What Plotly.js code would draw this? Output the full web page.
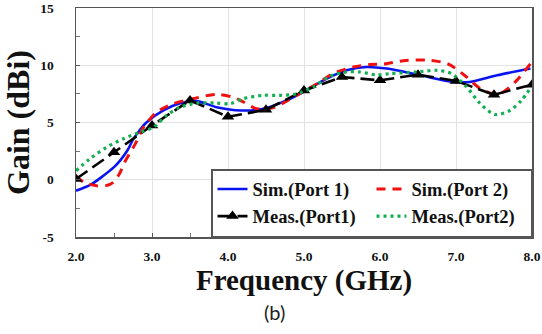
<!DOCTYPE html>
<html>
<head>
<meta charset="utf-8">
<script src="https://cdn.plot.ly/plotly-3.0.1.min.js"></script>
<style>
  html, body { margin: 0; padding: 0; background: #fff; }
  #chart { width: 542px; height: 334px; }
</style>
</head>
<body>
<div id="chart"></div>
<script>
// Simulated gain, port 1 (GHz, dBi)
const simP1Freq = [2.0, 2.2, 2.36, 2.5, 2.58, 2.68, 2.75, 2.84, 2.93, 3.15, 3.37, 3.59, 3.85, 4.17, 4.47, 4.77, 4.99, 5.30, 5.56, 5.82, 6.09, 6.53, 6.97, 7.18, 7.54, 7.98];
const simP1Gain = [-0.96, -0.4, 0.35, 1.1, 1.67, 2.6, 3.5, 4.35, 5.03, 6.05, 6.69, 6.87, 6.34, 6.05, 6.2, 6.93, 7.66, 8.83, 9.56, 9.85, 9.71, 9.12, 8.54, 8.54, 9.12, 9.71];

// Simulated gain, port 2
const simP2Freq = [2.0, 2.1, 2.27, 2.4, 2.49, 2.57, 2.64, 2.78, 2.89, 3.06, 3.28, 3.54, 3.85, 4.07, 4.2, 4.38, 4.6, 4.9, 5.21, 5.38, 5.65, 5.87, 6.05, 6.31, 6.64, 6.9, 7.14, 7.32, 7.5, 7.62, 7.8, 7.98];
const simP2Gain = [0.35, -0.2, -0.53, -0.5, -0.23, 0.5, 1.52, 3.13, 4.59, 5.9, 6.64, 7.08, 7.46, 7.2, 6.8, 6.2, 6.3, 7.37, 8.54, 9.27, 9.85, 10.06, 10.1, 10.4, 10.44, 10.1, 8.97, 7.95, 7.5, 7.66, 8.68, 10.15];

// Measured gain, port 1 (sampled every 0.5 GHz)
const measP1Freq = [2.0, 2.5, 3.0, 3.5, 4.0, 4.5, 5.0, 5.5, 6.0, 6.5, 7.0, 7.5, 8.0];
const measP1Gain = [0.06, 2.4, 4.74, 6.93, 5.5, 6.11, 7.8, 8.97, 8.68, 9.18, 8.63, 7.43, 8.3];

// Measured gain, port 2
const measP2Freq = [2.0, 2.18, 2.4, 2.62, 2.84, 3.02, 3.19, 3.37, 3.59, 3.85, 4.03, 4.2, 4.46, 4.68, 4.9, 5.12, 5.34, 5.56, 5.74, 5.96, 6.13, 6.48, 6.75, 6.94, 7.14, 7.32, 7.51, 7.71, 7.86, 7.99];
const measP2Gain = [0.79, 1.81, 2.83, 3.57, 4.15, 4.59, 5.61, 6.34, 6.69, 6.7, 6.64, 7.08, 7.37, 7.37, 7.5, 8.1, 9.04, 9.41, 9.41, 9.15, 9.27, 9.41, 9.56, 9.27, 8.1, 6.64, 5.7, 6.05, 6.93, 8.1];

const xTicks = [2, 3, 4, 5, 6, 7, 8];
const xTickText = ['2.0', '3.0', '4.0', '5.0', '6.0', '7.0', '8.0'];
const yTicks = [-5, 0, 5, 10, 15];
const yTickText = ['-5', '0', '5', '10', '15'];

const SERIF = 'Liberation Serif';

const traces = [
  {
    x: simP1Freq, y: simP1Gain, name: 'Sim.(Port 1)', mode: 'lines',
    line: { color: '#0a14f0', width: 2.6, shape: 'spline', smoothing: 0.8 }
  },
  {
    x: simP2Freq, y: simP2Gain, name: 'Sim.(Port 2)', mode: 'lines',
    line: { color: '#f01010', width: 3, dash: '9px,7px', shape: 'spline', smoothing: 0.8 }
  },
  {
    x: measP1Freq, y: measP1Gain, name: 'Meas.(Port1)', mode: 'lines+markers',
    line: { color: '#000000', width: 2.6, dash: '14px,6px' },
    marker: { symbol: 'triangle-up', size: 11, color: '#000000' }
  },
  {
    x: measP2Freq, y: measP2Gain, name: 'Meas.(Port2)', mode: 'lines',
    line: { color: '#10b050', width: 3.2, dash: '3px,4px', shape: 'spline', smoothing: 0.8 }
  }
];

const layout = {
  width: 542, height: 334,
  margin: { l: 76, r: 10, t: 8, b: 97 },
  paper_bgcolor: '#ffffff', plot_bgcolor: '#ffffff',
  font: { family: SERIF },
  showlegend: true,
  legend: {
    orientation: 'h', x: 1, xanchor: 'right', y: 0, yanchor: 'bottom',
    entrywidth: 114, entrywidthmode: 'pixels',
    bgcolor: '#ffffff', bordercolor: '#555555', borderwidth: 1.5,
    font: { family: SERIF, size: 18.5, color: '#111111', weight: 'bold' },
    itemwidth: 30, tracegroupgap: 0
  },
  xaxis: {
    range: [2, 8], tickvals: xTicks, ticktext: xTickText,
    showgrid: true, gridcolor: '#e2e2e2', gridwidth: 1,
    showline: true, linecolor: '#555555', linewidth: 1.5, mirror: true,
    ticks: 'inside', ticklen: 4, tickcolor: '#555555',
    minor: { dtick: 0.5, ticks: 'inside', ticklen: 4, tickcolor: '#777777', showgrid: false },
    ticklabelstandoff: 6,
    tickfont: { family: SERIF, size: 13.5, color: '#111111', weight: 'bold' },
    zeroline: false,
    title: { text: 'Frequency (GHz)', standoff: 1, font: { family: SERIF, size: 29, color: '#111111', weight: 'bold' } }
  },
  yaxis: {
    range: [-5, 15], tickvals: yTicks, ticktext: yTickText,
    showgrid: true, gridcolor: '#e2e2e2', gridwidth: 1,
    showline: true, linecolor: '#555555', linewidth: 1.5, mirror: true,
    ticks: 'inside', ticklen: 4, tickcolor: '#555555',
    minor: { dtick: 2.5, ticks: 'inside', ticklen: 4, tickcolor: '#777777', showgrid: false },
    ticklabelstandoff: 18,
    tickfont: { family: SERIF, size: 13.5, color: '#111111', weight: 'bold' },
    zeroline: false,
    title: { text: 'Gain (dBi)', standoff: 5, font: { family: SERIF, size: 32, color: '#111111', weight: 'bold' } }
  },
  annotations: [
    {
      text: '(b)', xref: 'paper', yref: 'paper', x: 0.436, y: 0, xanchor: 'center', yanchor: 'middle',
      yshift: -75, showarrow: false,
      font: { family: 'Lato', size: 20, color: '#222222' }
    }
  ]
};

Plotly.newPlot('chart', traces, layout, { staticPlot: true, displayModeBar: false });
</script>
</body>
</html>
